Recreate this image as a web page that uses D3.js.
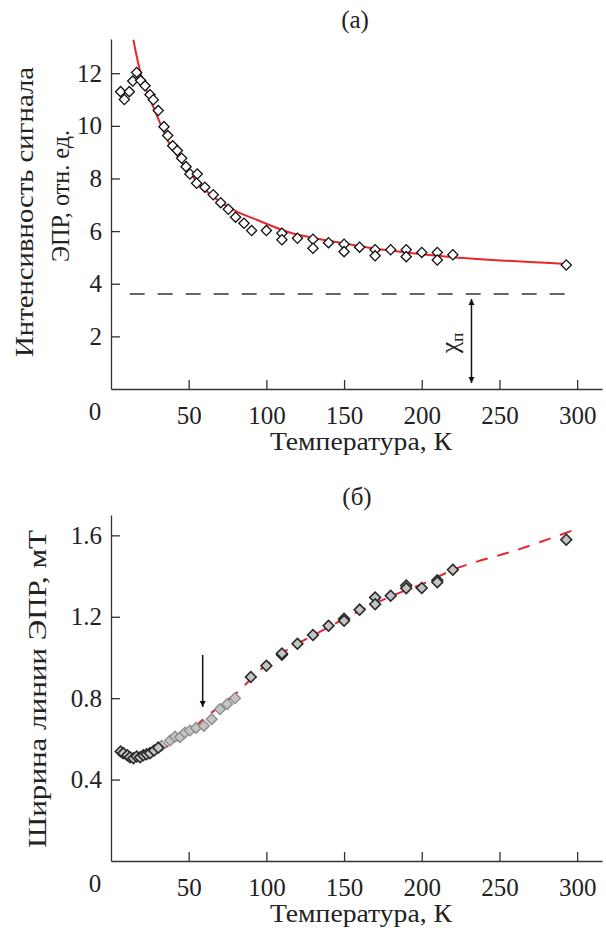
<!DOCTYPE html>
<html>
<head>
<meta charset="utf-8">
<script src="https://cdn.jsdelivr.net/npm/d3@7"></script>
<style>
  body { margin: 0; background: #fff; }
</style>
</head>
<body>
<div id="chart"></div>
<script>
// panel (a): EPR signal intensity, open diamonds
var tempA = [6.2, 8.6, 11.8, 14, 16.5, 19.1, 21.9, 25.1, 27.2, 30.4, 34.1, 36.5, 39.7, 42.7, 45.5, 48.3, 50.8, 55.5, 55.1, 60.4,
  65.8, 70.6, 75.5, 80.2, 85.6, 90.5, 100, 110, 110, 120, 130, 130, 140, 150, 150, 160, 170, 170, 180, 190, 190, 200, 210, 210, 220, 293];
var intensityA = [11.3, 11.0, 11.3, 11.7, 12.03, 11.72, 11.52, 11.18, 10.99, 10.58, 9.97, 9.63, 9.24, 9.06, 8.77, 8.45, 8.17, 8.17, 7.82, 7.67,
  7.38, 7.08, 6.83, 6.53, 6.30, 6.02, 6.02, 5.92, 5.67, 5.73, 5.69, 5.35, 5.56, 5.50, 5.22, 5.39, 5.29, 5.06, 5.29, 5.29, 5.03, 5.19, 5.19, 4.90, 5.10, 4.71];

// fitted curve of panel (a)
var fitTempA = [14.4, 19.7, 26.2, 32.6, 38, 44.4, 50.8, 59.4, 70.1, 80.9, 93.8, 115, 149.5, 179.5, 220, 293];
var fitA = [13.27, 11.87, 10.86, 9.97, 9.28, 8.71, 8.2, 7.63, 7.12, 6.74, 6.43, 5.95, 5.54, 5.26, 5.01, 4.75];

// pauli level
var chiP = 3.61;
var chiRange = [12, 297];
var chiArrowTemp = 232;

// panel (b): EPR line width
var tempDark = [6.2, 7.9, 10.5, 12.2, 14.4, 16.5, 18.7, 20.8, 22.9, 25.1, 27.7, 30.4, 90, 100, 110, 110, 120, 130, 140, 150, 150,
  160, 170, 170, 180, 190, 190, 200, 210, 210, 220, 293];
var widthDark = [0.538, 0.53, 0.52, 0.51, 0.505, 0.513, 0.51, 0.52, 0.525, 0.53, 0.543, 0.557, 0.904, 0.959, 1.013, 1.02, 1.067, 1.11, 1.156, 1.19, 1.18,
  1.235, 1.295, 1.262, 1.303, 1.353, 1.34, 1.341, 1.379, 1.37, 1.431, 1.579];
var tempLight = [32.6, 38, 41.2, 44.4, 47.6, 50.8, 54.7, 59.8, 64.8, 70.1, 74.8, 79.8];
var widthLight = [0.566, 0.592, 0.611, 0.608, 0.631, 0.641, 0.654, 0.664, 0.697, 0.746, 0.771, 0.8];

var fitTempB = [30, 45, 60, 70, 83, 96, 107, 115, 135, 150, 180, 200, 225, 260, 300];
var fitB = [0.54, 0.60, 0.70, 0.76, 0.84, 0.94, 1.0, 1.046, 1.128, 1.19, 1.30, 1.36, 1.445, 1.525, 1.632];
var markTempB = 59;

var ticksA = [2, 4, 6, 8, 10, 12];
var ticksB = [0.4, 0.8, 1.2, 1.6];
var ticksX = [50, 100, 150, 200, 250, 300];

var serif = "'Liberation Serif', serif";
var textColor = "#222";

var svgWidth = 606;
var svgHeight = 928;

var svg = d3.select("#chart").append("svg")
  .attr("width", svgWidth)
  .attr("height", svgHeight)
  .style("font-family", serif);

var defs = svg.append("defs");
defs.append("marker")
  .attr("id", "head")
  .attr("viewBox", "0 0 10 10")
  .attr("refX", 10).attr("refY", 5)
  .attr("markerWidth", 6).attr("markerHeight", 9)
  .attr("markerUnits", "userSpaceOnUse")
  .attr("orient", "auto-start-reverse")
  .append("path")
  .attr("d", "M0,0 L10,5 L0,10 Z")
  .attr("fill", "#111");

// shared x scale
var xScale = d3.scaleLinear().domain([0, 316]).range([111, 602]);

var yA = d3.scaleLinear().domain([0, 13.3]).range([389, 39]);
var yB = d3.scaleLinear().domain([0, 1.70]).range([861, 515]);

// plain text helper
function label(x, y, str, size, rotate, len) {
  var t = svg.append("text")
    .attr("transform", `translate(${x}, ${y})` + (rotate ? " rotate(-90)" : ""))
    .attr("text-anchor", "middle")
    .style("font-family", serif)
    .style("font-size", size + "px")
    .attr("fill", textColor)
    .text(str);
  if (len) t.attr("textLength", len).attr("lengthAdjust", "spacingAndGlyphs");
  return t;
}

function drawAxes(yScale, yTicks, fmt, axisY) {
  var g = svg.append("g");
  g.append("g")
    .attr("transform", `translate(0, ${axisY})`)
    .call(d3.axisBottom(xScale).tickValues(ticksX).tickSizeInner(-9).tickSizeOuter(0).tickPadding(17));
  g.append("g")
    .attr("transform", `translate(${xScale(0)}, 0)`)
    .call(d3.axisLeft(yScale).tickValues(yTicks).tickFormat(fmt).tickSizeInner(-9).tickSizeOuter(0).tickPadding(9));
  g.selectAll("g").attr("font-family", null);
  g.selectAll(".domain").attr("stroke", "#333").attr("stroke-width", 1.3);
  g.selectAll(".tick line").attr("stroke", "#333").attr("stroke-width", 1.3);
  g.selectAll(".tick text")
    .style("font-family", serif)
    .style("font-size", "25px")
    .attr("fill", textColor);
  // corner zero
  label(95, axisY + 31, "0", 25);
  // x label
  label(361, axisY + 61, "Температура, К", 26, false, 182);
}

drawAxes(yA, ticksA, d3.format("d"), 389);
drawAxes(yB, ticksB, d3.format(".1f"), 861);

// panel labels
label(355, 28, "(а)", 25);
label(357, 505, "(б)", 25);

// y labels
label(33, 212, "Интенсивность сигнала", 26, true, 290);
label(69, 196, "ЭПР, отн. ед.", 26, true, 132);
label(46, 689, "Ширина линии ЭПР, мТ", 26, true, 318);

//panel (a) marks
var lineA = d3.line()
  .x(d => xScale(d[0]))
  .y(d => yA(d[1]))
  .curve(d3.curveCatmullRom.alpha(0.5));

svg.append("line")
  .attr("x1", xScale(chiRange[0])).attr("x2", xScale(chiRange[1]))
  .attr("y1", yA(chiP)).attr("y2", yA(chiP))
  .attr("stroke", "#333").attr("stroke-width", 1.3)
  .attr("stroke-dasharray", "15,13");

svg.append("line")
  .attr("x1", xScale(chiArrowTemp)).attr("x2", xScale(chiArrowTemp))
  .attr("y1", yA(chiP) + 5).attr("y2", yA(0) - 6)
  .attr("stroke", "#111").attr("stroke-width", 1.5)
  .attr("marker-start", "url(#head)")
  .attr("marker-end", "url(#head)");

var chiLabel = label(xScale(chiArrowTemp) - 13, yA(1.75), "", 26, true);
chiLabel.append("tspan").text("χ");
chiLabel.append("tspan").style("font-size", "17px").attr("dy", 5).text("п");

svg.append("path")
  .datum(d3.zip(fitTempA, fitA))
  .attr("d", lineA)
  .attr("fill", "none")
  .attr("stroke", "#e8262c")
  .attr("stroke-width", 2);

var diamond = d3.symbol().type(d3.symbolSquare).size(52);

svg.append("g").selectAll("path")
  .data(d3.zip(tempA, intensityA))
  .enter()
  .append("path")
  .attr("d", diamond)
  .attr("transform", d => `translate(${xScale(d[0])}, ${yA(d[1])}) rotate(45)`)
  .attr("fill", "#fff")
  .attr("stroke", "#111")
  .attr("stroke-width", 1.3);

//panel (b) marks
var lineB = d3.line()
  .x(d => xScale(d[0]))
  .y(d => yB(d[1]))
  .curve(d3.curveCatmullRom.alpha(0.5));

svg.append("path")
  .datum(d3.zip(fitTempB, fitB))
  .attr("d", lineB)
  .attr("fill", "none")
  .attr("stroke", "#e8262c")
  .attr("stroke-width", 2)
  .attr("stroke-dasharray", "12,10");

var diamondB = d3.symbol().type(d3.symbolSquare).size(58);

svg.append("g").selectAll("path")
  .data(d3.zip(tempLight, widthLight))
  .enter()
  .append("path")
  .attr("d", diamondB)
  .attr("transform", d => `translate(${xScale(d[0])}, ${yB(d[1])}) rotate(45)`)
  .attr("fill", "#c4c4c4")
  .attr("stroke", "#8a8a8a")
  .attr("stroke-width", 1.3);

svg.append("g").selectAll("path")
  .data(d3.zip(tempDark, widthDark))
  .enter()
  .append("path")
  .attr("d", diamondB)
  .attr("transform", d => `translate(${xScale(d[0])}, ${yB(d[1])}) rotate(45)`)
  .attr("fill", "#c4c4c4")
  .attr("stroke", "#2a2a2a")
  .attr("stroke-width", 1.6);

svg.append("line")
  .attr("x1", xScale(markTempB)).attr("x2", xScale(markTempB))
  .attr("y1", 655).attr("y2", 707)
  .attr("stroke", "#111").attr("stroke-width", 1.5)
  .attr("marker-end", "url(#head)");
</script>
</body>
</html>
